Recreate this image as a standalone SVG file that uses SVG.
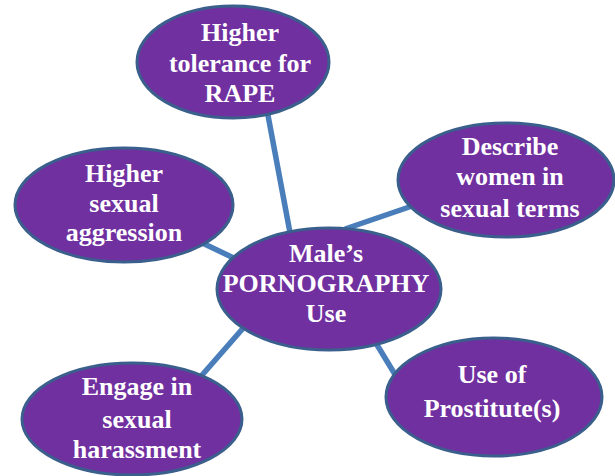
<svg xmlns="http://www.w3.org/2000/svg" width="615" height="476" viewBox="0 0 615 476">
<style>
.n ellipse{fill:#7030A0;stroke:#3A5F8C;stroke-width:3}
.n text{font-family:"Liberation Serif","Times New Roman",serif;font-weight:bold;font-size:26px;fill:#FFFFFF;text-anchor:middle}
.c line{stroke:#4A7EBB;stroke-width:5.5;stroke-linecap:butt}
</style>
<rect width="615" height="476" fill="#FFFFFF"/>
<g id="connectors" class="c">
<line x1="267" y1="110" x2="291" y2="238"/>
<line x1="345" y1="229" x2="418" y2="204"/>
<line x1="196" y1="240" x2="238" y2="260"/>
<line x1="252" y1="318" x2="196" y2="382"/>
<line x1="371" y1="335" x2="399" y2="381"/>
</g>
<g id="node-rape" class="n">
<ellipse cx="233" cy="62" rx="96" ry="56"/>
<text x="240" y="41">Higher</text>
<text x="240" y="72">tolerance for</text>
<text x="240" y="102">RAPE</text>
</g>
<g id="node-aggression" class="n">
<ellipse cx="124" cy="205" rx="109" ry="57"/>
<text x="124" y="182">Higher</text>
<text x="124" y="212">sexual</text>
<text x="124" y="241">aggression</text>
</g>
<g id="node-describe" class="n">
<ellipse cx="506" cy="180" rx="108" ry="57"/>
<text x="510" y="155">Describe</text>
<text x="510" y="185">women in</text>
<text x="510" y="217">sexual terms</text>
</g>
<g id="node-center" class="n">
<ellipse cx="329" cy="289" rx="112" ry="61"/>
<text x="326" y="262">Male’s</text>
<text x="326" y="292">PORNOGRAPHY</text>
<text x="326" y="322">Use</text>
</g>
<g id="node-harassment" class="n">
<ellipse cx="132" cy="419" rx="110" ry="56"/>
<text x="137" y="395">Engage in</text>
<text x="137" y="428">sexual</text>
<text x="137" y="458">harassment</text>
</g>
<g id="node-prostitutes" class="n">
<ellipse cx="494" cy="397" rx="108" ry="59"/>
<text x="492" y="383">Use of</text>
<text x="492" y="417">Prostitute(s)</text>
</g>
</svg>
